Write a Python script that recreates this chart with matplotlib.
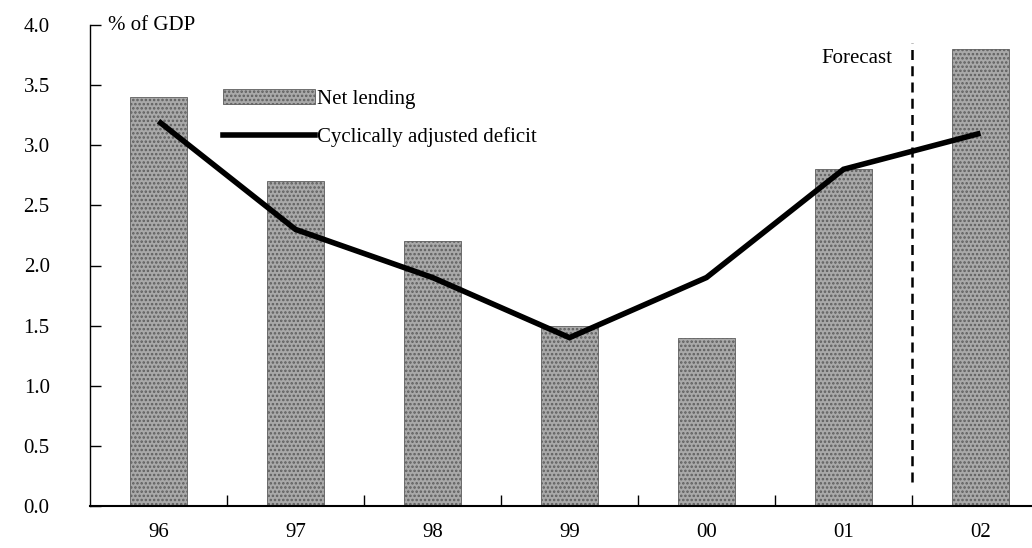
import matplotlib.pyplot as plt
import matplotlib.lines as mlines
import matplotlib.patches as mpatches

# --- dados ---
anos = ['96', '97', '98', '99', '00', '01', '02']
net_lending = [3.4, 2.7, 2.2, 1.5, 1.4, 2.8, 3.8]
deficit_ciclico = [3.2, 2.3, 1.9, 1.4, 1.9, 2.8, 3.1]
y_ticks = [0.0, 0.5, 1.0, 1.5, 2.0, 2.5, 3.0, 3.5, 4.0]

plt.rcParams['font.family'] = ['Liberation Serif', 'DejaVu Serif']
plt.rcParams['hatch.linewidth'] = 1.2

COR_BARRA = '#a9a9a9'
COR_HATCH = '#5e5e5e'

fig = plt.figure(figsize=(10.32, 5.48), dpi=100)
ax = fig.add_axes([90 / 1032, 42 / 548, 959 / 1032, 481 / 548])

x = list(range(len(anos)))
ax.bar(x, net_lending, width=0.42, color=COR_BARRA, edgecolor=COR_HATCH,
       linewidth=0.6, hatch='....', zorder=2)
ax.plot(x, deficit_ciclico, color='black', linewidth=4, zorder=3,
        solid_capstyle='butt', solid_joinstyle='miter')

# linha de previsão
ax.plot([5.5, 5.5], [0.2, 3.85], color='black', linestyle=(0, (4, 2.5)),
        linewidth=1.8, zorder=4)
ax.text(5.36, 3.72, 'Forecast', ha='right', va='center', fontsize=15)

ax.set_xlim(-0.5, 6.5)
ax.set_ylim(0, 4.0)
ax.set_yticks(y_ticks)
ax.set_yticklabels([f'{v:.1f}' for v in y_ticks], fontsize=15)
ax.set_xticks(x)
ax.set_xticklabels(anos, fontsize=15)
ax.set_xticks([i + 0.5 for i in range(6)], minor=True)

ax.tick_params(axis='y', direction='in', length=8, pad=29, width=1)
ax.tick_params(axis='x', which='major', length=0, pad=12)
ax.tick_params(axis='x', which='minor', direction='in', length=8, width=1)

for s in ['top', 'right']:
    ax.spines[s].set_visible(False)
ax.spines['left'].set_linewidth(1)
ax.spines['bottom'].set_linewidth(1.5)

ax.text(-0.37, 4.0, '% of GDP', ha='left', va='center', fontsize=15)

# legenda
h_bar = mpatches.Patch(facecolor=COR_BARRA, edgecolor=COR_HATCH, hatch='....',
                       linewidth=0.6)
h_line = mlines.Line2D([], [], color='black', linewidth=4)
ax.legend([h_bar, h_line], ['Net lending', 'Cyclically adjusted deficit'],
          loc='upper left', bbox_to_anchor=(0.123, 0.897), frameon=False,
          fontsize=15, handlelength=4.45, handleheight=0.7, handletextpad=0.1,
          labelspacing=0.9, borderpad=0.2)

fig.savefig('out.png', dpi=100)
